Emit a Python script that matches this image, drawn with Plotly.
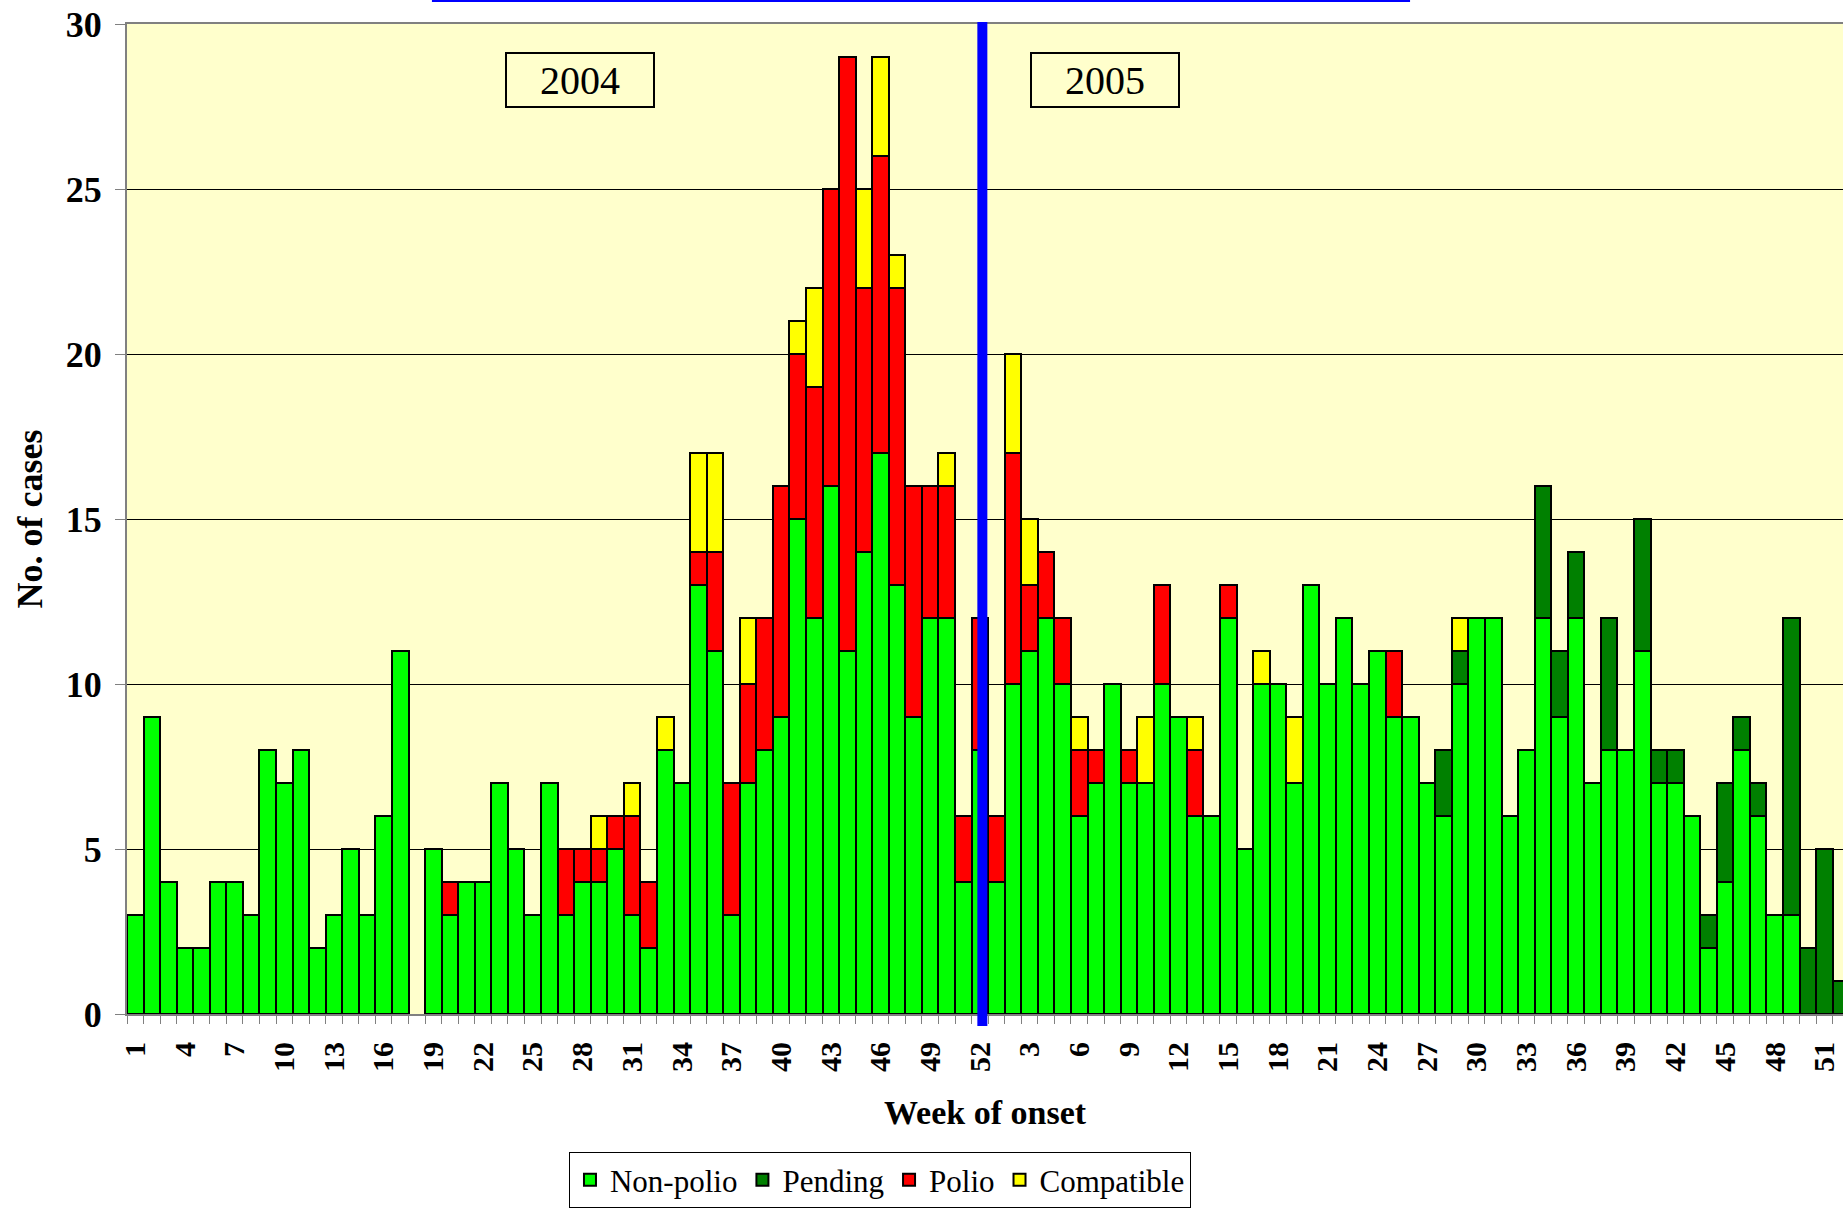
import plotly.graph_objects as go

# ---- data ----
years = [2004] * 52 + [2005] * 52
weeks = list(range(1, 53)) + list(range(1, 53))

non_polio = [3, 9, 4, 2, 2, 4, 4, 3, 8, 7, 8, 2, 3, 5, 3, 6, 11, 0, 5, 3,
             4, 4, 7, 5, 3, 7, 3, 4, 4, 5, 3, 2, 8, 7, 13, 11, 3, 7, 8, 9,
             15, 12, 16, 11, 14, 17, 13, 9, 12, 12, 4, 8,
             4, 10, 11, 12, 10, 6, 7, 10, 7, 7, 10, 9, 6, 6, 12, 5, 10, 10, 7, 13,
             10, 12, 10, 11, 9, 9, 7, 6, 10, 12, 12, 6, 8, 12, 9, 12, 7, 8, 8, 11,
             7, 7, 6, 2, 4, 8, 6, 3, 3, 0, 0, 0]
pending = [0] * 52 + \
          [0, 0, 0, 0, 0, 0, 0, 0, 0, 0, 0, 0, 0, 0, 0, 0, 0, 0, 0, 0,
           0, 0, 0, 0, 0, 0, 0, 2, 1, 0, 0, 0, 0, 4, 2, 2, 0, 4, 0, 4,
           1, 1, 0, 1, 3, 1, 1, 0, 9, 2, 5, 1]
polio = [0, 0, 0, 0, 0, 0, 0, 0, 0, 0, 0, 0, 0, 0, 0, 0, 0, 0, 0, 1,
         0, 0, 0, 0, 0, 0, 2, 1, 1, 1, 3, 2, 0, 0, 1, 3, 4, 3, 4, 7,
         5, 7, 9, 18, 8, 9, 9, 7, 4, 4, 2, 4,
         2, 7, 2, 2, 2, 2, 1, 0, 1, 0, 3, 0, 2, 0, 1, 0, 0, 0, 0, 0,
         0, 0, 0, 0, 2, 0, 0, 0, 0, 0, 0, 0, 0, 0, 0, 0, 0, 0, 0, 0,
         0, 0, 0, 0, 0, 0, 0, 0, 0, 0, 0, 0]
compatible = [0, 0, 0, 0, 0, 0, 0, 0, 0, 0, 0, 0, 0, 0, 0, 0, 0, 0, 0, 0,
              0, 0, 0, 0, 0, 0, 0, 0, 1, 0, 1, 0, 1, 0, 3, 3, 0, 2, 0, 0,
              1, 3, 0, 0, 3, 3, 1, 0, 0, 1, 0, 0,
              0, 3, 2, 0, 0, 1, 0, 0, 0, 2, 0, 0, 1, 0, 0, 0, 1, 0, 2, 0,
              0, 0, 0, 0, 0, 0, 0, 0, 1, 0, 0, 0, 0, 0, 0, 0, 0, 0, 0, 0,
              0, 0, 0, 0, 0, 0, 0, 0, 0, 0, 0, 0]

series_names = ["Non-polio", "Pending", "Polio", "Compatible"]
series_colors = ["#00FF00", "#008000", "#FF0000", "#FFFF00"]
year_labels = ["2004", "2005"]

FONT = "Liberation Serif"

pos = list(range(1, len(weeks) + 1))
tick_pos = pos[::3]
tick_text = [str(w) for w in weeks[::3]]

fig = go.Figure()
for name, vals, col in zip(series_names, [non_polio, pending, polio, compatible], series_colors):
    fig.add_bar(
        x=pos, y=[v if v else None for v in vals], name=name,
        marker=dict(color=col, line=dict(color="black", width=2)),
    )

last_2004 = pos[weeks.index(52)]

fig.update_layout(
    width=1843, height=1212,
    barmode="stack", bargap=0,
    margin=dict(l=127, r=0, t=24, b=198, autoexpand=False),
    paper_bgcolor="white", plot_bgcolor="#FFFFCC",
    font=dict(family=FONT, color="black"),
    showlegend=True,
    legend=dict(
        orientation="h", x=0.4388, xanchor="center", y=-0.1394, yanchor="top",
        font=dict(family=FONT, size=31, color="black"),
        bordercolor="black", borderwidth=1, bgcolor="white",
        traceorder="normal",
    ),
    xaxis=dict(
        range=[0.5, 104.12],
        tickmode="array", tickvals=tick_pos, ticktext=tick_text,
        tickangle=-90, ticks="", ticklabelstandoff=14,
        tickfont=dict(family=FONT, size=30, color="black", weight="bold"),
        minor=dict(tickmode="array", tickvals=[p - 0.5 for p in pos] + [pos[-1] + 0.5],
                   ticks="outside", ticklen=8, tickcolor="#808080", tickwidth=1),
        showline=True, linecolor="#808080", linewidth=2, mirror=True,
        showgrid=False, zeroline=False,
        title=dict(text="Week of onset", standoff=29,
                   font=dict(family=FONT, size=34, color="black", weight="bold")),
    ),
    yaxis=dict(
        range=[0, 30], dtick=5, tick0=0,
        ticks="outside", ticklen=10, tickcolor="#808080", tickwidth=1,
        ticklabelstandoff=6,
        tickfont=dict(family=FONT, size=36, color="black", weight="bold"),
        showline=True, linecolor="#808080", linewidth=2,
        showgrid=True, gridcolor="black", gridwidth=1, zeroline=False,
        title=dict(text="No. of cases", standoff=12,
                   font=dict(family=FONT, size=36, color="black", weight="bold")),
    ),
    shapes=[
        dict(type="line", xref="x", yref="paper", x0=last_2004 + 0.15, x1=last_2004 + 0.15,
             y0=-0.012, y1=1.002, line=dict(color="#0000FF", width=10), layer="above"),
        dict(type="line", xref="paper", yref="paper", x0=0.1777, x1=0.7477,
             y0=1.0232, y1=1.0232, line=dict(color="#0000FF", width=2)),
    ],
    annotations=[
        dict(text=year_labels[0], xref="paper", yref="paper", x=0.264, y=0.9434,
             xanchor="center", yanchor="middle",
             showarrow=False, font=dict(family=FONT, size=40, color="black"),
             bordercolor="black", borderwidth=2, borderpad=1, width=144, height=50,
             bgcolor="#FFFFCC"),
        dict(text=year_labels[1], xref="paper", yref="paper", x=0.570, y=0.9434,
             xanchor="center", yanchor="middle",
             showarrow=False, font=dict(family=FONT, size=40, color="black"),
             bordercolor="black", borderwidth=2, borderpad=1, width=144, height=50,
             bgcolor="#FFFFCC"),
    ],
)

fig.write_html("out.html", config={"displayModeBar": False},
               post_script="document.body.style.margin='0';")
